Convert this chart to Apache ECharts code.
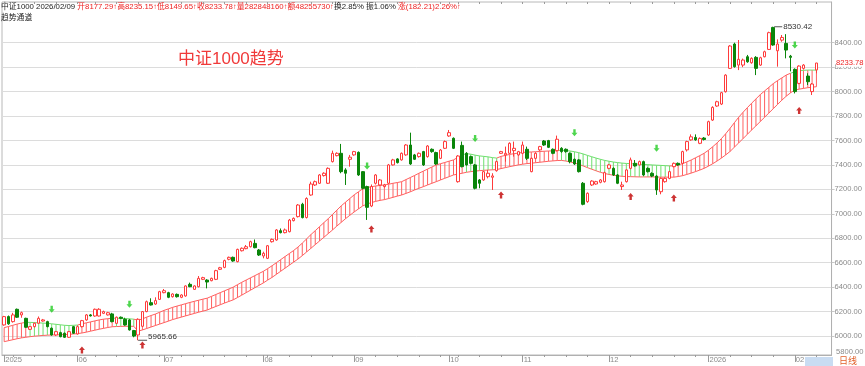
<!DOCTYPE html>
<html><head><meta charset="utf-8">
<script src="https://cdn.jsdelivr.net/npm/echarts@6/dist/echarts.min.js"></script>
<style>html,body{margin:0;padding:0;background:#fff}#c{width:865px;height:366px}</style>
</head><body><div id="c"></div>
<script>
// ---- trading days ----
const monthDays = [
 ['2025','05',[8,9,12,13,14,15,16,19,20,21,22,23,26,27,28,29,30]],
 ['2025','06',[3,4,5,6,9,10,11,12,13,16,17,18,19,20,23,24,25,26,27,30]],
 ['2025','07',[1,2,3,4,7,8,9,10,11,14,15,16,17,18,21,22,23,24,25,28,29,30,31]],
 ['2025','08',[1,4,5,6,7,8,11,12,13,14,15,18,19,20,21,22,25,26,27,28,29]],
 ['2025','09',[1,2,3,4,5,8,9,10,11,12,15,16,17,18,19,22,23,24,25,26,29,30]],
 ['2025','10',[9,10,13,14,15,16,17,20,21,22,23,24,27,28,29,30,31]],
 ['2025','11',[3,4,5,6,7,10,11,12,13,14,17,18,19,20,21,24,25,26,27,28]],
 ['2025','12',[1,2,3,4,5,8,9,10,11,12,15,16,17,18,19,22,23,24,25,26,29,30,31]],
 ['2026','01',[5,6,7,8,9,12,13,14,15,16,19,20,21,22,23,26,27,28,29,30]],
 ['2026','02',[2,3,4,5,6,9]]
];
// ---- OHLC ----
const openV  = [6091,6159,6118,6219,6173,6145,6055,6077,6105,6123,6118,6064,6009,6028,6023,5990,6077,6017,6077,6132,6173,6164,6164,6186,6173,6181,6104,6154,6137,6132,6045,6009,6080,6200,6273,6262,6300,6355,6355,6322,6341,6317,6328,6423,6382,6404,6464,6458,6453,6464,6546,6562,6628,6644,6609,6698,6715,6731,6758,6704,6655,6636,6772,6786,6862,6846,6854,6944,6977,7078,6970,7154,7236,7250,7313,7250,7427,7476,7495,7359,7446,7482,7503,7345,7223,7064,7250,7236,7223,7250,7400,7449,7441,7482,7563,7482,7468,7509,7468,7528,7501,7454,7536,7637,7618,7263,7560,7495,7468,7400,7277,7277,7304,7299,7353,7495,7482,7495,7517,7482,7495,7528,7345,7454,7523,7596,7599,7528,7517,7536,7528,7495,7446,7441,7250,7100,7236,7244,7258,7263,7372,7372,7318,7223,7263,7372,7413,7400,7427,7372,7331,7309,7181,7263,7290,7386,7413,7413,7523,7605,7625,7577,7620,7645,7767,7882,7898,7999,8190,8389,8217,8217,8285,8236,8280,8217,8285,8345,8525,8334,8421,8394,8290,8182,8067,8190,8127,8000,8177.29];
const closeV = [6159,6100,6173,6154,6191,6072,6077,6105,6145,6132,6077,6009,6036,5995,5990,6036,6023,6077,6126,6173,6165,6219,6219,6200,6191,6118,6154,6145,6091,6050,6000,6137,6200,6281,6254,6290,6363,6371,6317,6344,6322,6336,6410,6404,6410,6472,6478,6442,6472,6535,6559,6617,6644,6614,6709,6718,6731,6772,6723,6663,6677,6739,6791,6868,6846,6868,6949,6963,7072,6969,7125,7244,7263,7318,7332,7372,7495,7495,7345,7332,7463,7509,7318,7209,7053,7223,7318,7277,7236,7400,7441,7419,7495,7563,7408,7446,7495,7400,7555,7509,7408,7522,7591,7664,7536,7473,7386,7400,7413,7209,7250,7345,7332,7310,7427,7509,7495,7577,7536,7509,7563,7454,7454,7495,7550,7563,7544,7495,7610,7509,7509,7427,7408,7345,7078,7168,7268,7263,7277,7337,7400,7318,7250,7236,7359,7441,7392,7427,7318,7345,7309,7195,7290,7290,7345,7413,7400,7509,7591,7630,7605,7617,7608,7754,7871,7917,7991,8135,8373,8204,8264,8258,8244,8272,8190,8277,8326,8482,8381,8389,8443,8340,8280,8000,8209,8217,8081,8062,8233.78];
const lowV   = [6085,6092,6110,6148,6150,6068,6050,6070,6100,6118,6072,6003,6000,5990,5985,5985,6018,6012,6070,6125,6160,6158,6160,6180,6168,6112,6100,6140,6085,6045,5990,5965.66,6075,6195,6250,6255,6295,6350,6310,6315,6315,6310,6322,6400,6378,6398,6458,6390,6448,6458,6540,6555,6620,6608,6603,6692,6710,6725,6718,6655,6636,6630,6765,6780,6840,6840,6848,6938,6970,6963,6962,7148,7228,7244,7305,7244,7420,7470,7332,7236,7386,7475,7310,7200,6950,7055,7240,7230,7215,7244,7395,7412,7435,7475,7400,7440,7460,7392,7460,7500,7400,7448,7530,7630,7530,7255,7380,7395,7405,7200,7209,7270,7290,7195,7345,7490,7427,7490,7468,7475,7490,7440,7340,7448,7515,7556,7538,7488,7510,7500,7500,7413,7400,7338,7070,7090,7228,7238,7250,7256,7365,7310,7243,7195,7256,7365,7386,7395,7310,7338,7300,7155,7160,7255,7283,7380,7393,7406,7510,7598,7598,7570,7600,7638,7760,7875,7890,7992,8185,8196,8176,8200,8236,8228,8135,8210,8280,8340,8375,8204,8408,8272,8165,7985,8060,8180,8054,7972,8149.65];
const highV  = [6165,6168,6190,6225,6200,6150,6082,6110,6160,6140,6125,6070,6042,6035,6028,6042,6082,6085,6132,6180,6180,6225,6228,6208,6198,6190,6160,6160,6150,6140,6050,6145,6205,6290,6309,6317,6370,6385,6362,6350,6348,6342,6415,6437,6415,6491,6485,6465,6478,6542,6566,6625,6650,6650,6715,6725,6745,6780,6790,6712,6690,6745,6798,6875,6880,6880,6958,6970,7080,7090,7135,7263,7272,7325,7340,7380,7517,7503,7572,7373,7482,7515,7510,7350,7230,7240,7325,7285,7245,7408,7450,7455,7502,7570,7664,7490,7502,7515,7562,7535,7508,7530,7600,7686,7625,7480,7591,7505,7475,7408,7285,7352,7359,7332,7435,7515,7550,7585,7591,7515,7591,7550,7460,7500,7556,7604,7605,7535,7640,7545,7535,7502,7452,7448,7260,7175,7275,7270,7285,7345,7408,7380,7325,7263,7365,7460,7440,7435,7435,7380,7340,7315,7298,7298,7352,7420,7420,7516,7598,7650,7650,7625,7628,7762,7880,7925,7998,8142,8380,8400,8422,8270,8300,8280,8290,8285,8335,8490,8530.42,8427,8463,8470,8300,8190,8215,8225,8150,8070,8235.15];
// ---- trend channel (upper, lower, hatch colour 1 = red / 0 = green, upper-line colour) ----
const chanTop = [6069,6078,6088,6098,6106,6112,6112,6110,6108,6106,6104,6100,6096,6092,6088,6086,6088,6090,6100,6108,6116,6124,6132,6138,6142,6146,6146,6145,6143,6141,6138,6130,6140,6155,6168,6180,6195,6210,6222,6235,6245,6255,6265,6275,6284,6293,6302,6310,6325,6340,6355,6370,6385,6400,6420,6440,6458,6476,6494,6512,6530,6552,6575,6600,6625,6650,6675,6700,6728,6760,6795,6830,6862,6895,6928,6960,6995,7030,7065,7095,7125,7155,7180,7205,7215,7222,7228,7232,7236,7242,7250,7256,7263,7280,7297,7314,7332,7349,7366,7383,7400,7410,7420,7431,7441,7462,7482,7492,7488,7480,7474,7470,7466,7460,7456,7470,7478,7486,7492,7497,7502,7505,7506,7508,7510,7512,7514,7515,7517,7520,7518,7514,7508,7500,7490,7478,7467,7456,7446,7437,7430,7424,7419,7415,7412,7410,7408,7406,7404,7402,7400,7398,7396,7394,7392,7392,7400,7410,7425,7440,7458,7476,7495,7520,7549,7580,7615,7655,7699,7745,7790,7830,7868,7905,7940,7975,8005,8035,8065,8090,8112,8135,8150,8163,8170,8174,8176,8176,8176];
const chanBot = [5954,5962,5970,5978,5985,5990,5995,5999,6002,6005,6007,6009,6010,6011,6012,6014,6017,6020,6025,6032,6040,6048,6056,6063,6070,6076,6078,6079,6080,6080,6080,6040,6050,6062,6074,6086,6098,6110,6122,6135,6145,6155,6165,6175,6185,6195,6204,6213,6228,6242,6256,6270,6283,6296,6315,6335,6355,6375,6395,6415,6435,6458,6480,6505,6530,6555,6580,6605,6630,6658,6688,6718,6748,6778,6808,6838,6868,6900,6930,6960,6988,7015,7040,7065,7080,7092,7102,7110,7116,7125,7135,7145,7154,7167,7180,7195,7209,7222,7236,7250,7263,7277,7291,7304,7318,7325,7332,7340,7345,7350,7353,7356,7358,7360,7362,7370,7378,7386,7393,7400,7406,7411,7414,7418,7422,7426,7430,7433,7436,7437,7432,7425,7416,7405,7392,7378,7365,7352,7340,7330,7322,7316,7311,7307,7305,7304,7303,7302,7302,7302,7302,7301,7300,7300,7300,7300,7305,7312,7322,7333,7345,7358,7372,7390,7410,7432,7456,7482,7510,7545,7580,7615,7650,7686,7720,7755,7790,7825,7860,7895,7930,7962,7990,8013,8020,8026,8032,8036,8040];
const chanDir = [1,1,1,1,1,1,0,0,0,0,0,0,0,0,0,0,0,0,1,1,1,1,1,1,1,1,0,0,0,0,0,1,1,1,1,1,1,1,1,1,1,1,1,1,1,1,1,1,1,1,1,1,1,1,1,1,1,1,1,1,1,1,1,1,1,1,1,1,1,1,1,1,1,1,1,1,1,1,1,1,1,1,1,1,1,1,1,1,1,1,1,1,1,1,1,1,1,1,1,1,1,1,1,1,1,1,1,0,0,0,0,0,0,0,0,1,1,1,1,1,1,1,1,1,1,1,1,1,1,0,0,0,0,0,0,0,0,0,0,0,0,0,0,0,0,0,0,0,0,0,0,0,0,0,0,1,1,1,1,1,1,1,1,1,1,1,1,1,1,1,1,1,1,1,1,1,1,1,1,1,1,1,1,1,1,1,1,1,1];
const topDir  = [1,1,1,1,1,1,0,0,0,0,0,0,0,0,0,0,0,0,1,1,1,1,1,1,1,1,0,0,0,0,0,1,1,1,1,1,1,1,1,1,1,1,1,1,1,1,1,1,1,1,1,1,1,1,1,1,1,1,1,1,1,1,1,1,1,1,1,1,1,1,1,1,1,1,1,1,1,1,1,1,1,1,1,1,1,1,1,1,1,1,1,1,1,1,1,1,1,1,1,1,1,1,1,1,1,1,1,0,0,0,0,0,0,0,0,1,1,1,1,1,1,1,1,1,1,1,1,1,1,0,0,0,0,0,0,0,0,0,0,0,0,0,0,0,0,0,0,0,0,0,0,0,0,0,0,1,1,1,1,1,1,1,1,1,1,1,1,1,1,1,1,1,1,1,1,1,1,1,1,1,1,1,1,0,0,0,0,0,0];
// ---- signals ----
const buyIdx = [18,32,85,115,145,155,184];
const buyVal = [5886,5927,6876,7154,7142,7130,7845];
const sellIdx = [11,29,84,109,132,151,183];
const sellVal = [6219,6260,7391,7616,7664,7536,8381];
// ---- axis ticks ----
const yTicks = [6000,6200,6400,6600,6800,7000,7200,7400,7600,7800,8000,8200,8400];
const yMin = 5845, yMax = 8733;
const maxLabel = '8530.42', minLabel = '5965.66', lastLabel = '8233.78';

const RED = '#ff3b3b', GREEN = '#0a850a', CH_RED = '#ff6060', CH_GREEN = '#6ee06e';
const FONT = '"Liberation Sans", Arial, "Noto Sans CJK SC", sans-serif';

const dates = [];
monthDays.forEach(([y, m, ds]) => ds.forEach(d => dates.push(y + '/' + m + '/' + String(d).padStart(2, '0'))));
const cats = dates.concat(['p1', 'p2', 'p3']);
const monthStart = new Set([0]);
const weekStart = new Set([0]);
for (let i = 1; i < dates.length; i++) {
  if (dates[i].slice(0, 7) !== dates[i - 1].slice(0, 7)) monthStart.add(i);
  const a = new Date(dates[i - 1].replace(/\//g, '-')), b = new Date(dates[i].replace(/\//g, '-'));
  if (b.getDay() < a.getDay() || (b - a) > 5 * 864e5) weekStart.add(i);
}
function monthLabel(i) {
  const d = dates[i];
  if (i === 0) return d.slice(0, 4);
  const m = d.slice(5, 7);
  return m === '01' ? d.slice(0, 4) : m;
}
const candleData = openV.map((o, i) => [o, closeV[i], lowV[i], highV[i]]);
const chanData = chanTop.map((t, i) => [i, t, chanBot[i], chanDir[i]]);

const chart = echarts.init(document.getElementById('c'), null, {renderer: 'canvas'});
const axisLabelCommon = {fontSize: 7.6, color: '#8a8a8a', fontFamily: FONT};
chart.setOption({
  animation: false,
  backgroundColor: '#fff',
  grid: {left: 2, right: 32, top: 2, bottom: 11, show: true, borderColor: '#b8b8b8', borderWidth: 1, containLabel: false},
  xAxis: [
    {type: 'category', data: cats, boundaryGap: true, position: 'bottom',
     axisLine: {show: true, lineStyle: {color: '#b0b0b0'}},
     axisTick: {show: true, alignWithLabel: true, length: 2, interval: (i) => weekStart.has(i), lineStyle: {color: '#9a9a9a'}},
     axisLabel: {show: false}, splitLine: {show: false}},
    {type: 'category', data: cats, boundaryGap: true, position: 'bottom', offset: 0,
     axisLine: {show: false},
     axisTick: {show: true, alignWithLabel: true, length: 7, interval: (i) => monthStart.has(i), lineStyle: {color: '#9a9a9a'}},
     axisLabel: Object.assign({show: true, interval: (i) => monthStart.has(i), formatter: (v, i) => monthLabel(i), align: 'left', margin: 1, padding: [0, 0, 0, 1]}, axisLabelCommon),
     splitLine: {show: false}},
    {type: 'category', data: cats, boundaryGap: true, position: 'top',
     axisLine: {show: false},
     axisTick: {show: true, inside: true, alignWithLabel: true, length: 2, interval: (i) => weekStart.has(i), lineStyle: {color: '#9a9a9a'}},
     axisLabel: {show: false}}
  ],
  yAxis: {type: 'value', position: 'right', min: yMin, max: yMax, scale: true,
    axisLine: {show: true, lineStyle: {color: '#b0b0b0'}},
    axisTick: {show: true, length: 3, customValues: yTicks, lineStyle: {color: '#c8c8c8'}},
    axisLabel: Object.assign({customValues: yTicks, formatter: (v) => v.toFixed(2), margin: 3}, axisLabelCommon),
    splitLine: {show: true, lineStyle: {color: '#dcdcdc', width: 1}}},
  series: [
    {type: 'custom', name: 'channel', xAxisIndex: 0, z: 1, silent: true,
     renderItem(params, api) {
       const i = api.value(0);
       const p1 = api.coord([i, api.value(1)]);
       const p2 = api.coord([i, api.value(2)]);
       const col = api.value(3) ? CH_RED : CH_GREEN;
       const ch = [{type: 'line', shape: {x1: p1[0], y1: p1[1], x2: p2[0], y2: p2[1]}, style: {stroke: col, lineWidth: 1}}];
       if (i + 1 < chanTop.length) {
         const q1 = api.coord([i + 1, chanTop[i + 1]]);
         const q2 = api.coord([i + 1, chanBot[i + 1]]);
         const c2 = topDir[i + 1] ? CH_RED : CH_GREEN;
         ch.push({type: 'line', shape: {x1: p1[0], y1: p1[1], x2: q1[0], y2: q1[1]}, style: {stroke: c2, lineWidth: 1}});
         ch.push({type: 'line', shape: {x1: p2[0], y1: p2[1], x2: q2[0], y2: q2[1]}, style: {stroke: CH_RED, lineWidth: 1}});
       }
       return {type: 'group', children: ch};
     },
     data: chanData},
    {type: 'candlestick', name: 'k', xAxisIndex: 0, z: 3, barWidth: 3, data: candleData,
     itemStyle: {color: '#ffffff', color0: GREEN, borderColor: RED, borderColor0: GREEN, borderWidth: 1}},
    {type: 'scatter', name: 'buy', xAxisIndex: 0, z: 4, silent: true,
     symbol: 'path://M5,0 L10,5 L7,5 L7,10 L3,10 L3,5 L0,5 Z', symbolSize: [6, 7],
     itemStyle: {color: '#c00000'}, data: buyIdx.map((x, k) => [x, buyVal[k]])},
    {type: 'scatter', name: 'sell', xAxisIndex: 0, z: 4, silent: true,
     symbol: 'path://M5,10 L10,5 L7,5 L7,0 L3,0 L3,5 L0,5 Z', symbolSize: [6, 7],
     itemStyle: {color: '#22cc22'}, data: sellIdx.map((x, k) => [x, sellVal[k]])}
  ]
});

// ---- annotations positioned from data ----
const hiIdx = highV.indexOf(Math.max(...highV));
const loIdx = lowV.indexOf(Math.min(...lowV));
const pHi = chart.convertToPixel({xAxisIndex: 0, yAxisIndex: 0}, [hiIdx, highV[hiIdx]]);
const pLo = chart.convertToPixel({xAxisIndex: 0, yAxisIndex: 0}, [loIdx, lowV[loIdx]]);
const yLast = chart.convertToPixel({yAxisIndex: 0}, closeV[closeV.length - 1]);
const gBottom = chart.convertToPixel({yAxisIndex: 0}, yMin);
const txt = {fontFamily: FONT, fontSize: 8, fill: '#333'};
chart.setOption({graphic: [
  {type: 'text', left: 1, top: 3, style: {fontFamily: FONT, fontSize: 7.8, rich: {
      k: {fill: '#222', fontFamily: FONT, fontSize: 7.8},
      r: {fill: '#ee2222', fontFamily: FONT, fontSize: 7.8}},
    text: '{k|中证1000 2026/02/09 }{r|开8177.29↑高8235.15↑低8149.65↑收8233.78↑量282848160↑额48255730↑}{k|换2.85% 振1.06% }{r|涨(182.21)2.26%↑}'}},
  {type: 'text', left: 1, top: 14, style: {text: '趋势通道', fontFamily: FONT, fontSize: 7.8, fill: '#222'}},
  {type: 'text', left: 178, top: 51, style: {text: '中证1000趋势', fontFamily: FONT, fontSize: 17, fill: '#f03a3a'}},
  {type: 'line', shape: {x1: pHi[0] + 1, y1: pHi[1], x2: pHi[0] + 9, y2: pHi[1]}, style: {stroke: '#555', lineWidth: 1}, z: 10},
  {type: 'text', x: pHi[0] + 10, y: pHi[1], style: Object.assign({text: maxLabel, verticalAlign: 'middle'}, txt), z: 10},
  {type: 'line', shape: {x1: pLo[0], y1: pLo[1], x2: pLo[0] + 9, y2: pLo[1]}, style: {stroke: '#555', lineWidth: 1}, z: 10},
  {type: 'text', x: pLo[0] + 10, y: pLo[1] + 1, style: Object.assign({text: minLabel, verticalAlign: 'bottom'}, txt), z: 10},
  {type: 'text', x: 836, y: yLast, style: {text: lastLabel, verticalAlign: 'middle', fontFamily: FONT, fontSize: 7.6, fill: '#ee2222', backgroundColor: '#fff', padding: [0, 0, 0, 0]}, z: 10},
  {type: 'text', x: 836, y: gBottom - 3, style: {text: '5800.00', verticalAlign: 'middle', fontFamily: FONT, fontSize: 7.6, fill: '#8a8a8a'}, z: 10},
  {type: 'rect', shape: {x: 805, y: 357, width: 28, height: 9}, style: {fill: '#c9dcf2'}, z: 0},
  {type: 'text', x: 839, y: 361.5, style: {text: '日线', verticalAlign: 'middle', fontFamily: FONT, fontSize: 9, fill: '#e2602a'}, z: 10}
]});
</script></body></html>
